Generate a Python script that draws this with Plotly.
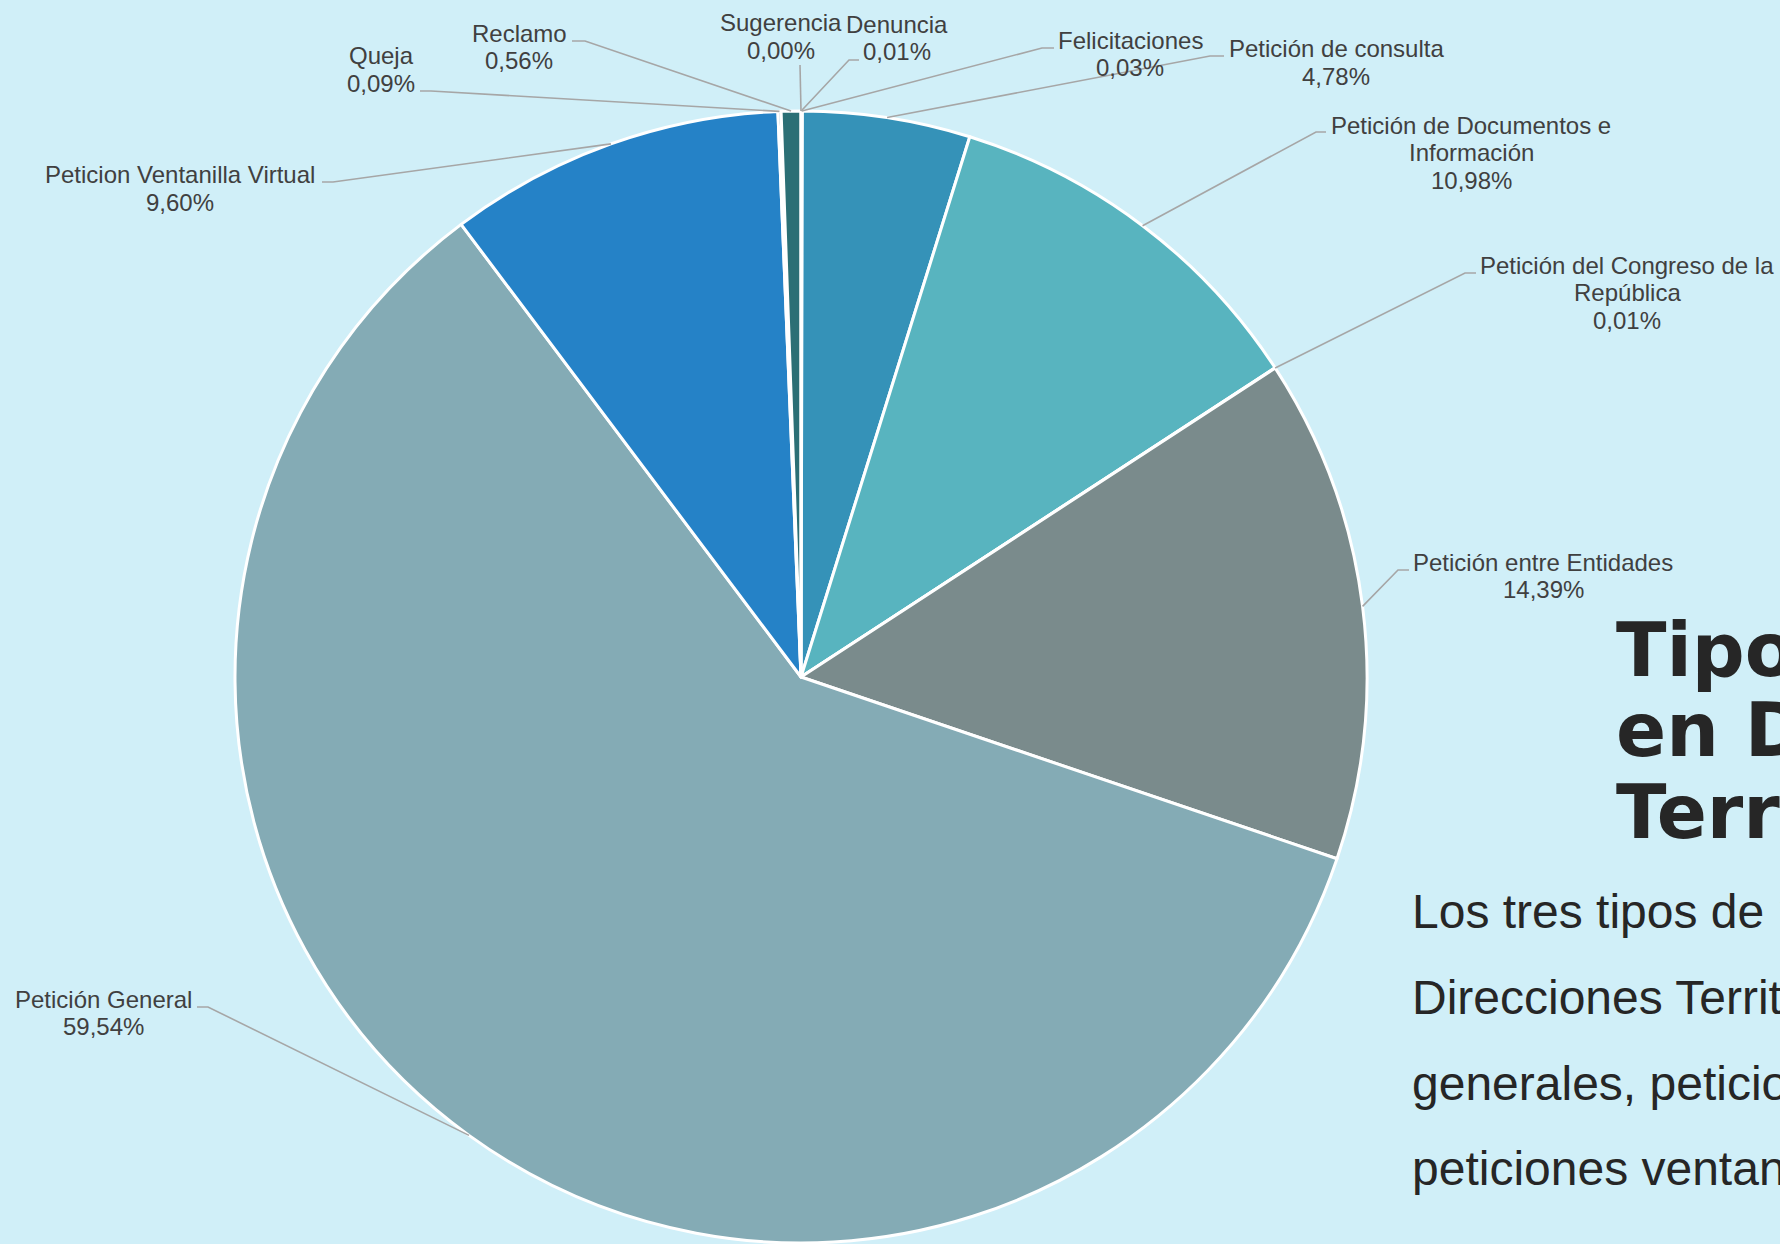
import math
import plotly.graph_objects as go

W, H = 1780, 1244

# ---------------- data ----------------
categories = [
    "Denuncia", "Felicitaciones", "Petición de consulta",
    "Petición de Documentos e Información", "Petición del Congreso de la República",
    "Petición entre Entidades", "Petición General", "Peticion Ventanilla Virtual",
    "Queja", "Reclamo", "Sugerencia",
]
values = [0.01, 0.03, 4.78, 10.98, 0.01, 14.39, 59.54, 9.60, 0.09, 0.56, 0.00]
label_lines = [
    ["Denuncia"], ["Felicitaciones"], ["Petición de consulta"],
    ["Petición de Documentos e", "Información"], ["Petición del Congreso de la", "República"],
    ["Petición entre Entidades"], ["Petición General"], ["Peticion Ventanilla Virtual"],
    ["Queja"], ["Reclamo"], ["Sugerencia"],
]
title_lines = ["Tipos de peticiones", "en Direcciones", "Territoriales"]
body_lines = [
    "Los tres tipos de peticiones más frecuentes en las",
    "Direcciones Territoriales fueron las peticiones",
    "generales, peticiones entre entidades y",
    "peticiones ventanilla virtual.",
]

# ---------------- styles / layout ----------------
colors = ["#1F6FA8", "#2E8FB0", "#3592B8", "#58B4BF", "#4A9FB0",
          "#7A8B8C", "#84ABB5", "#2582C7", "#3C7FA0", "#2B6F75", "#5FA8C0"]
bg = "#D0EFF8"
text_col = "#404040"
line_col = "#A6A6A6"

cx, cy, R = 801, 677, 566           # pie centre / radius in pixels
# label first-line centre (px) and connector (text-side x, elbow x, y) in px
label_pos = [(897, 24), (1130, 40), (1336, 49), (1471, 125), (1627, 265),
             (1543, 562), (103, 999), (180, 175), (381, 56), (519, 33), (781, 23)]
connectors = [(859, 849, 60), (1054, 1042, 48), (1224, 1210, 56), (1326, 1316, 132),
              (1476, 1465, 273), (1409, 1398, 570), (197, 208, 1007), (322, 333, 182),
              (420, 431, 91), (572, 585, 41), (800, 800, 65)]
LH = 27.5


def px(x):
    return x / W


def py(y):
    return 1 - y / H


fig = go.Figure()
fig.add_trace(go.Pie(
    labels=categories, values=values, sort=False, direction="clockwise", rotation=0,
    marker=dict(colors=colors, line=dict(color="white", width=3)),
    textinfo="none", showlegend=False,
    domain=dict(x=[px(cx - R), px(cx + R)], y=[py(cy + R), py(cy - R)]),
))

annotations = []
shapes = []
total = sum(values)
cum = 0.0
for i, (cat, v) in enumerate(zip(categories, values)):
    mid = (cum + v / 2) / total
    cum += v
    ang = 2 * math.pi * mid
    ax = cx + R * math.sin(ang)
    ay = cy - R * math.cos(ang)
    pct = f"{v:.2f}".replace(".", ",") + "%"
    lines = label_lines[i] + [pct]
    lx, ly = label_pos[i]
    for k, t in enumerate(lines):
        annotations.append(dict(
            x=px(lx), y=py(ly + k * LH), xref="paper", yref="paper",
            text=t, showarrow=False, xanchor="center", yanchor="middle",
            font=dict(family="Liberation Sans, Arial, sans-serif", size=24, color=text_col),
        ))
    x1, x2, yy = connectors[i]
    path = f"M {px(x1)} {py(yy)} L {px(x2)} {py(yy)} L {px(ax)} {py(ay)}"
    shapes.append(dict(type="path", path=path, xref="paper", yref="paper",
                       line=dict(color=line_col, width=1.6), layer="above"))

title_y = [650, 730, 812]
for t, y in zip(title_lines, title_y):
    annotations.append(dict(
        x=px(1614), y=py(y), xref="paper", yref="paper", text=t, showarrow=False,
        xanchor="left", yanchor="middle",
        font=dict(family="DejaVu Sans, Liberation Sans, sans-serif", size=74,
                  color="#262626", weight="bold"),
    ))
body_y = [911, 997, 1083, 1168]
for t, y in zip(body_lines, body_y):
    annotations.append(dict(
        x=px(1410), y=py(y), xref="paper", yref="paper", text=t, showarrow=False,
        xanchor="left", yanchor="middle",
        font=dict(family="Liberation Sans, Arial, sans-serif", size=48, color="#262626"),
    ))

fig.update_layout(
    width=W, height=H, margin=dict(l=0, r=0, t=0, b=0),
    paper_bgcolor=bg, plot_bgcolor=bg,
    annotations=annotations, shapes=shapes,
)
fig.write_html("out.html")
